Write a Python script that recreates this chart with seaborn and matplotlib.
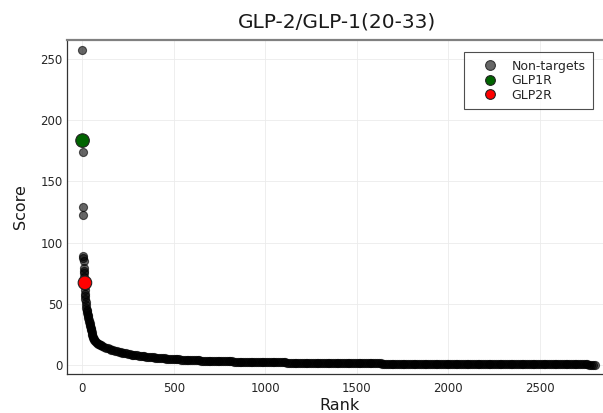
import matplotlib
matplotlib.use("Agg")
import matplotlib.pyplot as plt
from matplotlib.lines import Line2D
import pandas as pd
import seaborn as sns

# ---- data -------------------------------------------------------------
# Highest-ranked non-target receptors, listed one by one
head_rank = [1, 3, 4, 5, 6, 7, 8, 9, 10, 11,
             12, 13, 14, 16, 17, 18, 19, 20,
             22, 24, 26, 28, 30, 32, 34, 36, 38, 40,
             42, 44, 46, 48, 50, 52, 54, 56, 58, 60,
             63, 66, 70, 75, 80, 85, 90, 95]
head_score = [257.6, 174.5, 129.3, 122.6, 89.0, 87.5, 85.0, 79.0, 76.6, 74.8,
              72.0, 64.0, 61.5, 58.0, 56.0, 53.5, 51.0, 48.5,
              46.5, 45.0, 43.5, 42.0, 40.8, 39.5, 38.0, 36.5, 35.2, 34.0,
              32.8, 31.5, 30.2, 29.0, 28.0, 26.5, 25.2, 24.0, 22.8, 21.8,
              20.6, 19.8, 19.0, 18.3, 17.7, 17.2, 16.7, 16.3]

# Long tail of non-targets, every 10th rank from 100 to 2800
tail_rank = list(range(100, 2801, 10))
tail_score = [
    16.0, 15.3, 14.6, 13.9, 13.3, 12.7, 12.2, 11.7, 11.2, 10.8, 10.4,
    10.05, 9.7, 9.4, 9.1, 8.8, 8.5, 8.25, 8.0, 7.75, 7.5,
    7.3, 7.1, 6.9, 6.7, 6.5, 6.3, 6.15, 6.0, 5.85, 5.7,
    5.55, 5.4, 5.25, 5.1, 5.0, 4.9, 4.8, 4.7, 4.6, 4.5,
    4.4, 4.3, 4.2, 4.1, 4.0, 3.9, 3.85, 3.8, 3.7, 3.6,
    3.55, 3.5, 3.45, 3.4, 3.35, 3.3, 3.25, 3.2, 3.15, 3.1,
    3.05, 3.0, 2.95, 2.9, 2.85, 2.8, 2.75, 2.7, 2.65, 2.6,
    2.58, 2.55, 2.52, 2.5, 2.45, 2.4, 2.38, 2.35, 2.32, 2.3,
    2.25, 2.2, 2.18, 2.15, 2.12, 2.1, 2.08, 2.05, 2.02, 2.0,
    1.98, 1.95, 1.92, 1.9, 1.88, 1.85, 1.82, 1.8, 1.78, 1.75,
    1.74, 1.72, 1.7, 1.68, 1.66, 1.64, 1.62, 1.6, 1.58, 1.56,
    1.54, 1.52, 1.5, 1.48, 1.46, 1.45, 1.44, 1.42, 1.4, 1.38,
    1.36, 1.35, 1.34, 1.32, 1.3, 1.29, 1.28, 1.26, 1.24, 1.23,
    1.22, 1.2, 1.18, 1.17, 1.16, 1.14, 1.12, 1.11, 1.1, 1.08,
    1.06, 1.05, 1.04, 1.02, 1.01, 1.0, 0.98, 0.97, 0.96, 0.95,
    0.94, 0.92, 0.91, 0.9, 0.89, 0.88, 0.87, 0.86, 0.85, 0.84,
    0.83, 0.82, 0.81, 0.8, 0.79, 0.78, 0.77, 0.76, 0.75, 0.74,
    0.73, 0.72, 0.71, 0.7, 0.69, 0.68, 0.67, 0.66, 0.655, 0.65,
    0.64, 0.63, 0.62, 0.61, 0.605, 0.6, 0.59, 0.58, 0.57, 0.56,
    0.555, 0.55, 0.54, 0.53, 0.525, 0.52, 0.51, 0.5, 0.495, 0.49,
    0.48, 0.47, 0.465, 0.46, 0.45, 0.44, 0.435, 0.43, 0.425, 0.42,
    0.41, 0.4, 0.395, 0.39, 0.385, 0.38, 0.37, 0.36, 0.355, 0.35,
    0.345, 0.34, 0.335, 0.33, 0.32, 0.31, 0.305, 0.3, 0.295, 0.29,
    0.285, 0.28, 0.275, 0.27, 0.265, 0.26, 0.255, 0.25, 0.245, 0.24,
    0.235, 0.23, 0.225, 0.22, 0.215, 0.21, 0.205, 0.2, 0.195, 0.19,
    0.185, 0.18, 0.175, 0.17, 0.165, 0.16, 0.155, 0.15, 0.14, 0.13,
    0.125, 0.12, 0.11, 0.1, 0.095, 0.09, 0.08, 0.07, 0.06, 0.04,
]

# Target receptors
target_names = ["GLP1R", "GLP2R"]
target_rank = [2, 15]
target_score = [183.5, 67.0]
target_colors = ["#006400", "#ff0000"]

x_ticks = [0, 500, 1000, 1500, 2000, 2500]
y_ticks = [0, 50, 100, 150, 200, 250]

# ---- figure -----------------------------------------------------------
sns.set_theme(style="white")
plt.rcParams["font.family"] = ["DejaVu Sans"]

W, H = 603, 413
fig = plt.figure(figsize=(W / 100, H / 100), dpi=100)
ax = fig.add_axes([67 / W, 39 / H, (612 - 67) / W, 334 / H])

nontargets = pd.DataFrame({"Rank": head_rank + tail_rank,
                           "Score": head_score + tail_score})
targets = pd.DataFrame({"Rank": target_rank, "Score": target_score,
                        "name": target_names})

sns.scatterplot(data=nontargets, x="Rank", y="Score", ax=ax,
                color="black", alpha=0.6, s=34, edgecolor="black",
                linewidth=0.8, legend=False, zorder=3)
sns.scatterplot(data=targets, x="Rank", y="Score", hue="name",
                palette=dict(zip(target_names, target_colors)), ax=ax,
                s=95, edgecolor="#222222", linewidth=0.8, legend=False,
                zorder=4)

ax.set_xlim(-83, 2894)
ax.set_ylim(-7.7, 265.9)
ax.set_xticks(x_ticks)
ax.set_yticks(y_ticks)
ax.grid(True, color="#ebebeb", linewidth=0.6)
ax.set_axisbelow(True)

for side in ("left", "bottom"):
    ax.spines[side].set_color("#333333")
    ax.spines[side].set_linewidth(0.9)
ax.spines["top"].set_color("#808080")
ax.spines["top"].set_linewidth(1.6)
ax.spines["right"].set_visible(False)

ax.tick_params(axis="both", direction="in", length=3.5, width=0.8,
               color="#333333", labelsize=8.5, labelcolor="#262626")
ax.tick_params(axis="x", pad=6)
ax.tick_params(axis="y", pad=3)

ax.set_xlabel("Rank", fontsize=11.5, color="#1a1a1a", labelpad=2)
ax.set_ylabel("Score", fontsize=11.5, color="#1a1a1a", labelpad=9)
ax.set_title("GLP-2/GLP-1(20-33)", fontsize=14.5, color="#1a1a1a",
             pad=9, x=0.495)

handles = [
    Line2D([], [], linestyle="none", marker="o", markersize=7,
           markerfacecolor="#666666", markeredgecolor="#333333",
           markeredgewidth=0.8, label="Non-targets"),
]
for name, col in zip(target_names, target_colors):
    handles.append(Line2D([], [], linestyle="none", marker="o", markersize=7,
                          markerfacecolor=col, markeredgecolor="#222222",
                          markeredgewidth=0.8, label=name))
leg = ax.legend(handles=handles, loc="upper right",
                bbox_to_anchor=(0.965, 0.964), borderaxespad=0,
                fontsize=9, frameon=True, fancybox=False,
                labelspacing=0.12, handletextpad=0.27, borderpad=0.6,
                handlelength=2.9)
leg.get_frame().set_edgecolor("#222222")
leg.get_frame().set_linewidth(0.8)

fig.savefig("out.png", dpi=100)
